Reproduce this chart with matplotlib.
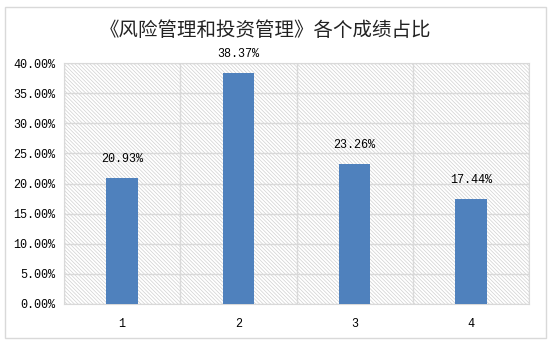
import matplotlib.pyplot as plt
from matplotlib.patches import Rectangle
from matplotlib.ticker import FuncFormatter

categories = ['1', '2', '3', '4']
shares = [20.93, 38.37, 23.26, 17.44]
yticks = [0, 5, 10, 15, 20, 25, 30, 35, 40]

plt.rcParams['font.family'] = ['Noto Sans CJK SC', 'DejaVu Sans']
plt.rcParams['hatch.linewidth'] = 0.5
plt.rcParams['hatch.color'] = '#d0d0d0'
mono = ['Liberation Mono', 'DejaVu Sans Mono']

fig = plt.figure(figsize=(5.51, 3.46), dpi=100)
# outer frame of the chart
fig.patches.append(Rectangle((5 / 551, 1 - 338 / 346), 541 / 551, 331 / 346,
                             transform=fig.transFigure, fill=False,
                             edgecolor='#d9d9d9', linewidth=1))
ax = fig.add_axes([64 / 551, 1 - 304 / 346, 465 / 551, 241 / 346])

# hatched plot background
ax.add_patch(Rectangle((0, 0), 1, 1, transform=ax.transAxes, facecolor='white',
                       edgecolor='#d0d0d0', hatch='\\' * 9, linewidth=0, zorder=0))

x = list(range(len(categories)))
ax.bar(x, shares, width=0.27, color='#4F81BD', zorder=3)
for xi, v in zip(x, shares):
    ax.annotate(f'{v:.2f}%', (xi, v), xytext=(0, 9), textcoords='offset points',
                ha='center', va='bottom', fontsize=8.5, family=mono)

ax.set_xlim(-0.5, len(categories) - 0.5)
ax.set_ylim(0, 40)
ax.set_yticks(yticks)
ax.yaxis.set_major_formatter(FuncFormatter(lambda v, p: f'{v:.2f}%'))
ax.set_xticks(x)
ax.set_xticklabels(categories, family=mono)
ax.set_xticks([i - 0.5 for i in range(len(categories) + 1)], minor=True)
ax.tick_params(axis='both', which='both', length=0, labelsize=8.5)
ax.tick_params(axis='x', pad=10)
ax.tick_params(axis='y', pad=6)
for lab in ax.get_yticklabels():
    lab.set_family(mono)

ax.grid(axis='y', which='major', color='#d9d9d9', linewidth=1, zorder=1)
ax.grid(axis='x', which='minor', color='#d9d9d9', linewidth=1, zorder=1)
ax.set_axisbelow(True)
for s in ax.spines.values():
    s.set_color('#d9d9d9')

fig.text(265 / 551, 1 - 31 / 346, '《风险管理和投资管理》各个成绩占比', ha='center',
         va='center', fontsize=14, color='#222222', fontweight='light')

fig.savefig('out.png', dpi=100)
